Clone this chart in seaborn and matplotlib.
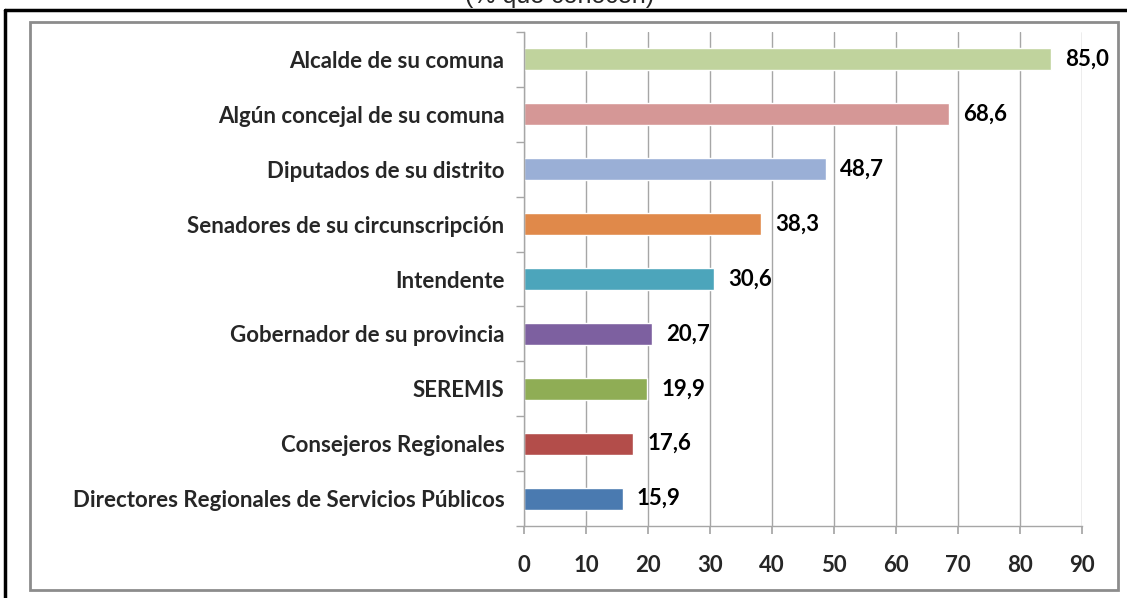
import matplotlib
matplotlib.use("Agg")
import matplotlib.pyplot as plt
import seaborn as sns
import pandas as pd
from matplotlib.patches import Rectangle

categories = [
    "Alcalde de su comuna",
    "Algún concejal de su comuna",
    "Diputados de su distrito",
    "Senadores de su circunscripción",
    "Intendente",
    "Gobernador de su provincia",
    "SEREMIS",
    "Consejeros Regionales",
    "Directores Regionales de Servicios Públicos",
]
values = [85.0, 68.6, 48.7, 38.3, 30.6, 20.7, 19.9, 17.6, 15.9]
colors = ["#C0D39D", "#D59796", "#9AAFD6", "#E0894A", "#4CA5BB",
          "#7D60A0", "#8FAD55", "#B34D4A", "#4A7AB0"]
xticks = [0, 10, 20, 30, 40, 50, 60, 70, 80, 90]
title = "(% que conocen)"

sns.set_theme(style="white")
plt.rcParams["font.family"] = ["Lato", "DejaVu Sans"]

df = pd.DataFrame({"cat": categories, "val": values})

fig = plt.figure(figsize=(11.27, 5.98), dpi=100)
ax = fig.add_axes([524/1127, 1-526/598, (1082-524)/1127, (526-32)/598])

sns.barplot(data=df, y="cat", x="val", hue="cat", palette=colors,
            legend=False, ax=ax, width=0.4, orient="h", saturation=1)

ax.set_xlim(0, 90)
ax.set_ylim(8.5, -0.5)
ax.set_xticks(xticks)
ax.set_xticklabels([str(t) for t in xticks], fontsize=16, fontweight="bold")
ax.set_yticks(range(len(categories)))
ax.set_yticklabels(categories, fontsize=16, fontweight="bold")
ax.set_xlabel("")
ax.set_ylabel("")
ax.grid(axis="x", color="#A6A6A6", linewidth=1)
ax.set_axisbelow(True)
for s in ["top", "right"]:
    ax.spines[s].set_visible(False)
for s in ["left", "bottom"]:
    ax.spines[s].set_color("#A6A6A6")
    ax.spines[s].set_linewidth(1)

# y tick marks at category boundaries
ax.tick_params(axis="y", length=0, pad=14)
ax.set_yticks([i + 0.5 for i in range(-1, len(categories))], minor=True)
ax.tick_params(axis="y", which="minor", length=6, color="#A6A6A6", direction="out", left=True)
ax.tick_params(axis="x", length=6, color="#A6A6A6", direction="out", pad=15, bottom=True)

for i, v in enumerate(values):
    ax.text(v + 2.3, i, f"{v:.1f}".replace(".", ","), va="center", ha="left",
            fontsize=16, fontweight="bold", color="black")

# frames
fig.patches.append(Rectangle((30/1127, 1-590/598), (1118-30)/1127, (590-22)/598,
                             transform=fig.transFigure, fill=False,
                             edgecolor="#8C8C8C", linewidth=2))
fig.add_artist(plt.Line2D([5/1127, 5/1127], [0, 1-10/598], transform=fig.transFigure,
                          color="black", linewidth=2.5))
fig.add_artist(plt.Line2D([5/1127, 1], [1-10/598, 1-10/598], transform=fig.transFigure,
                          color="black", linewidth=2.5))
fig.text(560/1127, 1 + 4/598, title, ha="center", va="center",
         fontsize=18, family=["Liberation Sans", "DejaVu Sans"])

fig.savefig("out.png", dpi=100)
